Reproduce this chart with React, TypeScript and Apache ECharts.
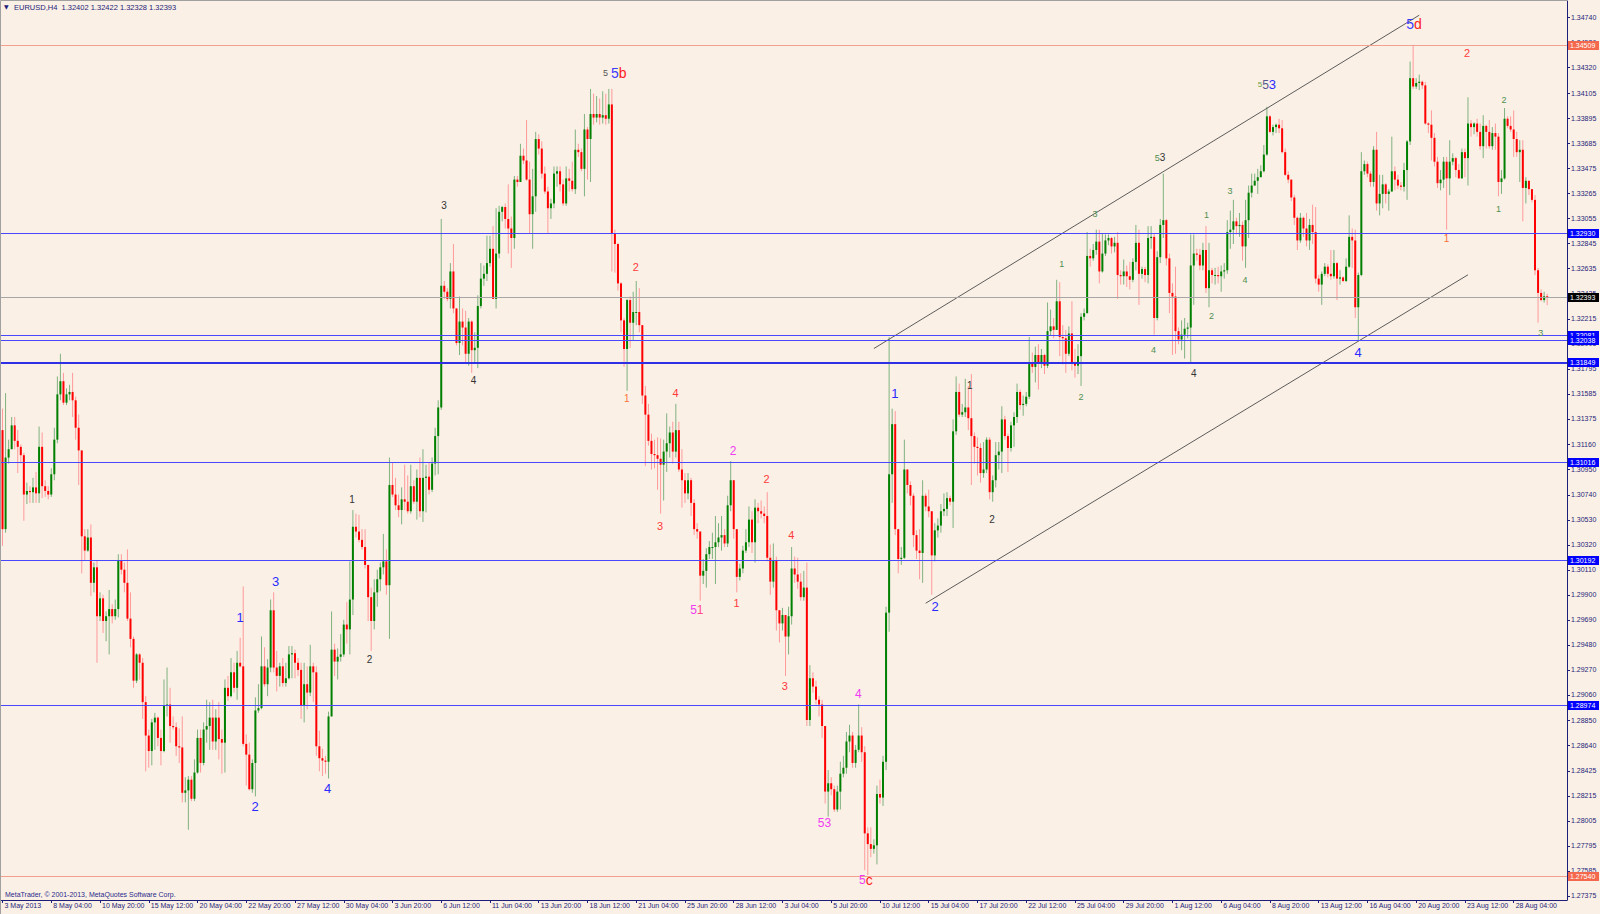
import React, { useEffect, useRef } from 'react';
import * as echarts from 'echarts';

// ---------------- DATA ----------------
const FIRST_OPEN = 1.3128;

const closes = [
  1.3045,1.3105,1.3112,1.3132,1.3119,1.3114,1.3107,1.3074,1.3077,1.3076,
  1.3080,1.3075,1.3114,1.3081,1.3077,1.3074,1.3091,1.3120,1.3158,1.3169,
  1.3151,1.3158,1.3160,1.3153,1.3130,1.3111,1.3039,1.3027,1.3038,1.3000,
  1.3013,1.2972,1.2987,1.2968,1.2972,1.2978,1.2972,1.2978,1.3019,1.3011,
  1.3000,1.2970,1.2953,1.2918,1.2940,1.2933,1.2900,1.2872,1.2859,1.2883,
  1.2887,1.2870,1.2859,1.2897,1.2898,1.2880,1.2879,1.2863,1.2862,1.2824,
  1.2826,1.2835,1.2819,1.2841,1.2870,1.2849,1.2877,1.2880,1.2887,1.2867,
  1.2887,1.2869,1.2866,1.2912,1.2905,1.2925,1.2912,1.2933,1.2930,1.2865,
  1.2856,1.2827,1.2849,1.2893,1.2895,1.2930,1.2915,1.2929,1.2977,1.2929,
  1.2922,1.2930,1.2916,1.2920,1.2940,1.2941,1.2933,1.2927,1.2897,1.2915,
  1.2908,1.2930,1.2925,
  1.2863,1.2853,1.2851,1.2850,1.2888,1.2944,1.2934,1.2938,1.2940,1.2965,
  1.2961,1.2986,1.3047,1.3043,1.3036,1.3030,1.3015,1.2988,1.2968,1.2992,
  1.3003,1.3013,1.3018,1.2998,1.3082,1.3074,1.3065,1.3061,1.3070,1.3068,
  1.3060,1.3081,1.3068,1.3088,1.3060,1.3088,1.3089,1.3078,1.3100,1.3123,
  1.3147,1.3249,1.3244,1.3238,1.3261,1.3230,1.3201,1.3219,1.3214,1.3192,
  1.3219,1.3195,1.3197,1.3232,1.3255,1.3259,1.3268,1.3280,1.3238,1.3276,
  1.3311,1.3315,1.3305,1.3297,1.3289,1.3338,1.3336,1.3358,1.3354,1.3338,
  1.3309,1.3324,1.3372,1.3364,1.3343,1.3328,1.3314,1.3318,1.3343,1.3345,
  1.3334,1.3318,1.3339,1.3337,1.3330,1.3363,1.3361,1.3347,1.3380,1.3372,
  1.3393,1.3390,1.3393,1.3390,1.3392,1.3389,1.3401,1.3293,
  1.3284,1.3251,1.3220,1.3196,1.3237,1.3218,1.3227,1.3227,1.3216,1.3157,
  1.3141,1.3119,1.3108,1.3107,1.3104,1.3099,1.3110,1.3117,1.3126,1.3110,
  1.3128,1.3095,1.3086,1.3075,1.3086,1.3067,1.3045,1.3043,1.3006,1.3010,
  1.3024,1.3030,1.3030,1.3034,1.3038,1.3040,1.3033,1.3065,1.3086,1.3045,
  1.3005,1.3012,1.3027,1.3034,1.3053,1.3034,1.3063,1.3060,1.3058,1.3056,
  1.3021,1.3001,1.3019,1.2977,1.2966,1.2973,1.2955,1.2972,1.3012,1.3007,
  1.3001,1.2988,1.2996,1.2885,1.2920,1.2913,1.2902,1.2898,1.2880,1.2825,
  1.2832,1.2827,1.2810,1.2825,1.2840,1.2845,1.2867,1.2872,1.2849,1.2860,
  1.2872,1.2858,1.2790,1.2781,1.2777,1.2780,1.2823,1.2820,1.2850,1.2975,
  1.3091,1.3133,1.3045,1.3020,1.3021,1.3095,1.3082,
  1.3073,1.3040,1.3027,1.3025,1.3073,1.3064,1.3060,1.3023,1.3044,1.3048,
  1.3060,1.3062,1.3071,1.3068,1.3127,1.3160,1.3141,1.3143,1.3147,1.3138,
  1.3123,1.3114,1.3113,1.3092,1.3095,1.3120,1.3076,1.3086,1.3107,1.3110,
  1.3137,1.3123,1.3113,1.3132,1.3139,1.3160,1.3149,1.3150,1.3156,1.3185,
  1.3181,1.3191,1.3184,1.3191,1.3182,1.3211,1.3215,1.3212,1.3236,1.3206,
  1.3205,1.3192,1.3209,1.3184,1.3182,1.3190,1.3223,1.3226,1.3274,1.3272,
  1.3279,1.3286,1.3261,1.3276,1.3287,1.3289,1.3282,1.3285,1.3258,1.3257,
  1.3261,1.3257,1.3254,1.3269,1.3285,1.3259,1.3263,1.3258,1.3289,1.3290,
  1.3222,1.3273,1.3300,1.3304,1.3272,1.3243,1.3240,1.3211,1.3204,1.3208,
  1.3213,1.3214,1.3266,1.3276,1.3275,1.3266,1.3279,1.3247,1.3262,
  1.3258,1.3258,1.3257,1.3261,1.3262,1.3294,1.3296,1.3303,1.3299,1.3300,
  1.3282,1.3304,1.3327,1.3333,1.3337,1.3340,1.3345,1.3359,1.3391,1.3378,
  1.3382,1.3384,1.3381,1.3361,1.3342,1.3338,1.3323,1.3306,1.3287,1.3306,
  1.3297,1.3287,1.3300,1.3294,1.3255,1.3250,1.3259,1.3265,1.3259,1.3257,
  1.3268,1.3255,1.3256,1.3253,1.3265,1.3290,1.3287,1.3231,1.3258,1.3345,
  1.3351,1.3343,1.3336,1.3363,1.3318,1.3326,1.3334,1.3326,1.3328,1.3345,
  1.3338,1.3333,1.3332,1.3346,1.3370,1.3423,1.3416,1.3419,1.3420,1.3417,
  1.3385,1.3384,1.3373,1.3353,1.3335,1.3338,1.3353,1.3339,1.3353,1.3356,
  1.3346,1.3339,1.3361,1.3356,1.3385,1.3382,1.3385,1.3378,1.3366,1.3383,
  1.3378,1.3366,1.3377,1.3374,1.3336,1.3339,1.3389,1.3383,1.3380,1.3372,
  1.3361,1.3363,1.3331,1.3337,1.3330,1.3321,1.3262,1.3243,1.3237,1.32402,1.32393,
];

const highs = [
  1.3146,1.3159,1.3120,1.3139,1.3139,1.3128,1.3116,1.3109,1.3084,1.3081,
  1.3088,1.3093,1.3131,1.3126,1.3086,1.3081,1.3096,1.3130,1.3173,1.3192,
  1.3176,1.3163,1.3166,1.3176,1.3156,1.3141,1.3111,1.3045,1.3045,1.3049,
  1.3017,1.3019,1.2992,1.2990,1.2976,1.2994,1.2982,1.2986,1.3024,1.3024,
  1.3017,1.3028,1.2992,1.2955,1.2941,1.2941,1.2937,1.2905,1.2877,1.2886,
  1.2891,1.2888,1.2877,1.2919,1.2929,1.2912,1.2888,1.2883,1.2878,1.2888,
  1.2837,1.2838,1.2838,1.2852,1.2877,1.2877,1.2883,1.2902,1.2900,1.2902,
  1.2894,1.2900,1.2877,1.2919,1.2922,1.2937,1.2933,1.2943,1.2954,1.2997,
  1.2873,1.2866,1.2852,1.2904,1.2915,1.2955,1.2946,1.2936,1.2986,1.2992,
  1.2943,1.2933,1.2937,1.2933,1.2947,1.2947,1.2944,1.2937,1.2933,1.2933,
  1.2930,1.2948,1.2933,
  1.2930,1.2876,1.2861,1.2855,1.2892,1.2976,1.2949,1.2945,1.2957,1.2969,
  1.2984,1.3018,1.3061,1.3058,1.3057,1.3045,1.3045,1.3015,1.2996,1.3003,
  1.3011,1.3017,1.3041,1.3028,1.3105,1.3101,1.3088,1.3074,1.3080,1.3099,
  1.3090,1.3099,1.3086,1.3095,1.3105,1.3112,1.3099,1.3101,1.3105,1.3130,
  1.3153,1.3305,1.3253,1.3247,1.3268,1.3284,1.3230,1.3240,1.3230,1.3228,
  1.3222,1.3220,1.3210,1.3241,1.3268,1.3266,1.3291,1.3291,1.3299,1.3314,
  1.3316,1.3316,1.3318,1.3334,1.3307,1.3341,1.3341,1.3368,1.3364,1.3388,
  1.3353,1.3347,1.3378,1.3376,1.3370,1.3349,1.3332,1.3322,1.3349,1.3349,
  1.3349,1.3338,1.3349,1.3347,1.3353,1.3380,1.3368,1.3364,1.3393,1.3382,
  1.3414,1.3410,1.3408,1.3406,1.3412,1.3410,1.3414,1.3414,
  1.3296,1.3285,1.3252,1.3222,1.3238,1.3240,1.3244,1.3253,1.3247,1.3216,
  1.3165,1.3150,1.3125,1.3120,1.3122,1.3121,1.3120,1.3142,1.3131,1.3135,
  1.3150,1.3135,1.3112,1.3092,1.3092,1.3088,1.3070,1.3050,1.3043,1.3020,
  1.3029,1.3035,1.3042,1.3056,1.3050,1.3056,1.3045,1.3073,1.3102,1.3086,
  1.3045,1.3016,1.3031,1.3045,1.3064,1.3060,1.3070,1.3067,1.3069,1.3064,
  1.3076,1.3032,1.3033,1.3022,1.2977,1.2979,1.2973,1.2980,1.3030,1.3022,
  1.3021,1.3008,1.3010,1.3017,1.2931,1.2925,1.2918,1.2905,1.2902,1.2880,
  1.2843,1.2837,1.2830,1.2830,1.2850,1.2855,1.2875,1.2881,1.2875,1.2864,
  1.2898,1.2879,1.2863,1.2795,1.2795,1.2785,1.2830,1.2835,1.2855,1.2980,
  1.3206,1.3146,1.3144,1.3045,1.3030,1.3120,1.3095,
  1.3085,1.3075,1.3044,1.3045,1.3086,1.3075,1.3078,1.3060,1.3050,1.3054,
  1.3066,1.3075,1.3076,1.3073,1.3137,1.3173,1.3167,1.3150,1.3171,1.3165,
  1.3175,1.3126,1.3122,1.3117,1.3118,1.3122,1.3122,1.3090,1.3118,1.3118,
  1.3148,1.3140,1.3125,1.3135,1.3143,1.3167,1.3162,1.3157,1.3160,1.3206,
  1.3193,1.3198,1.3200,1.3196,1.3192,1.3235,1.3229,1.3222,1.3254,1.3252,
  1.3216,1.3212,1.3215,1.3236,1.3196,1.3200,1.3226,1.3230,1.3294,1.3280,
  1.3284,1.3296,1.3296,1.3293,1.3292,1.3292,1.3290,1.3290,1.3294,1.3262,
  1.3271,1.3266,1.3269,1.3272,1.3300,1.3296,1.3265,1.3265,1.3299,1.3299,
  1.3293,1.3278,1.3305,1.3343,1.3305,1.3276,1.3251,1.3265,1.3214,1.3220,
  1.3222,1.3218,1.3292,1.3292,1.3280,1.3280,1.3285,1.3299,1.3285,
  1.3264,1.3264,1.3265,1.3266,1.3268,1.3304,1.3312,1.3321,1.3306,1.3310,
  1.3303,1.3321,1.3333,1.3343,1.3343,1.3347,1.3350,1.3367,1.3399,1.3392,
  1.3384,1.3385,1.3389,1.3388,1.3364,1.3345,1.3338,1.3325,1.3307,1.3310,
  1.3307,1.3310,1.3305,1.3317,1.3315,1.3258,1.3261,1.3268,1.3267,1.3279,
  1.3279,1.3269,1.3262,1.3257,1.3272,1.3308,1.3297,1.3296,1.3260,1.3361,
  1.3354,1.3353,1.3345,1.3366,1.3378,1.3342,1.3342,1.3335,1.3330,1.3374,
  1.3349,1.3342,1.3336,1.3352,1.3371,1.3437,1.3451,1.3423,1.3426,1.3421,
  1.3420,1.3386,1.3396,1.3377,1.3357,1.3346,1.3357,1.3357,1.3371,1.3360,
  1.3357,1.3351,1.3364,1.3364,1.3407,1.3388,1.3386,1.3389,1.3385,1.3392,
  1.3384,1.3388,1.3382,1.3385,1.3377,1.3346,1.3398,1.3391,1.3391,1.3396,
  1.3378,1.3371,1.3371,1.3340,1.3335,1.3329,1.3325,1.3264,1.3246,1.3244,1.32422,
];

const lows = [
  1.3031,1.3042,1.3100,1.3112,1.3112,1.3092,1.3100,1.3052,1.3066,1.3067,
  1.3067,1.3067,1.3067,1.3071,1.3072,1.3070,1.3072,1.3086,1.3117,1.3153,
  1.3149,1.3149,1.3153,1.3139,1.3120,1.3082,1.3008,1.3019,1.3026,1.2989,
  1.2992,1.2933,1.2968,1.2958,1.2951,1.2940,1.2966,1.2969,1.2971,1.3007,
  1.2992,1.2968,1.2946,1.2912,1.2916,1.2919,1.2886,1.2842,1.2845,1.2847,
  1.2860,1.2863,1.2847,1.2858,1.2888,1.2866,1.2877,1.2855,1.2849,1.2816,
  1.2816,1.2793,1.2817,1.2817,1.2840,1.2841,1.2847,1.2866,1.2860,1.2860,
  1.2860,1.2852,1.2840,1.2841,1.2901,1.2904,1.2908,1.2902,1.2929,1.2863,
  1.2830,1.2826,1.2824,1.2821,1.2891,1.2894,1.2913,1.2905,1.2925,1.2925,
  1.2909,1.2913,1.2913,1.2913,1.2919,1.2920,1.2920,1.2922,1.2886,1.2883,
  1.2894,1.2905,1.2900,
  1.2855,1.2842,1.2838,1.2840,1.2836,1.2888,1.2922,1.2919,1.2934,1.2938,
  1.2949,1.2940,1.2973,1.3038,1.3034,1.3028,1.3012,1.2968,1.2943,1.2961,
  1.2980,1.2993,1.3007,1.2990,1.2953,1.3072,1.3061,1.3055,1.3049,1.3061,
  1.3058,1.3058,1.3066,1.3053,1.3055,1.3051,1.3059,1.3074,1.3076,1.3090,
  1.3091,1.3145,1.3238,1.3236,1.3230,1.3226,1.3199,1.3191,1.3199,1.3184,
  1.3182,1.3176,1.3184,1.3180,1.3230,1.3249,1.3253,1.3265,1.3238,1.3230,
  1.3272,1.3303,1.3297,1.3276,1.3264,1.3280,1.3332,1.3337,1.3351,1.3337,
  1.3293,1.3280,1.3311,1.3359,1.3339,1.3326,1.3293,1.3305,1.3314,1.3332,
  1.3328,1.3316,1.3316,1.3328,1.3328,1.3326,1.3357,1.3345,1.3324,1.3338,
  1.3336,1.3384,1.3386,1.3384,1.3385,1.3384,1.3385,1.3261,
  1.3260,1.3245,1.3210,1.3181,1.3161,1.3197,1.3203,1.3216,1.3210,1.3150,
  1.3098,1.3115,1.3095,1.3096,1.3078,1.3058,1.3069,1.3093,1.3105,1.3100,
  1.3105,1.3093,1.3063,1.3067,1.3070,1.3056,1.3040,1.3037,1.2985,1.2999,
  1.2996,1.3020,1.3020,1.2999,1.3030,1.3027,1.3030,1.3030,1.3060,1.3037,
  1.2992,1.3002,1.3008,1.3025,1.3030,1.3025,1.3017,1.3050,1.3054,1.3050,
  1.3018,1.2990,1.2996,1.2960,1.2950,1.2960,1.2922,1.2940,1.2965,1.3000,
  1.2995,1.2985,1.2985,1.2880,1.2880,1.2908,1.2898,1.2888,1.2870,1.2815,
  1.2804,1.2822,1.2808,1.2808,1.2810,1.2837,1.2840,1.2858,1.2845,1.2845,
  1.2858,1.2850,1.2759,1.2755,1.2770,1.2773,1.2764,1.2815,1.2813,1.2843,
  1.2959,1.3067,1.3040,1.3008,1.3015,1.3020,1.3075,
  1.3065,1.3030,1.3020,1.3003,1.3000,1.3060,1.3055,1.2990,1.3018,1.3038,
  1.3042,1.3056,1.3056,1.3065,1.3046,1.3124,1.3139,1.3139,1.3139,1.3128,
  1.3082,1.3100,1.3090,1.3084,1.3088,1.3092,1.3070,1.3068,1.3080,1.3095,
  1.3092,1.3120,1.3093,1.3110,1.3114,1.3134,1.3145,1.3140,1.3148,1.3154,
  1.3176,1.3168,1.3162,1.3180,1.3175,1.3180,1.3207,1.3205,1.3222,1.3190,
  1.3183,1.3176,1.3190,1.3178,1.3172,1.3175,1.3165,1.3220,1.3226,1.3265,
  1.3270,1.3275,1.3251,1.3260,1.3274,1.3283,1.3276,1.3277,1.3238,1.3250,
  1.3250,1.3248,1.3246,1.3252,1.3262,1.3233,1.3255,1.3252,1.3251,1.3280,
  1.3208,1.3220,1.3268,1.3289,1.3266,1.3226,1.3191,1.3192,1.3200,1.3195,
  1.3188,1.3205,1.3185,1.3233,1.3270,1.3262,1.3262,1.3243,1.3231,
  1.3251,1.3250,1.3251,1.3244,1.3255,1.3259,1.3280,1.3284,1.3292,1.3290,
  1.3270,1.3264,1.3289,1.3323,1.3333,1.3326,1.3340,1.3344,1.3358,1.3377,
  1.3375,1.3377,1.3377,1.3360,1.3341,1.3335,1.3320,1.3300,1.3279,1.3285,
  1.3290,1.3282,1.3279,1.3284,1.3251,1.3244,1.3233,1.3257,1.3256,1.3254,
  1.3255,1.3237,1.3250,1.3252,1.3252,1.3264,1.3264,1.3222,1.3203,1.3257,
  1.3342,1.3340,1.3332,1.3332,1.3312,1.3308,1.3314,1.3318,1.3312,1.3328,
  1.3329,1.3330,1.3329,1.3328,1.3321,1.3367,1.3414,1.3414,1.3413,1.3414,
  1.3384,1.3377,1.3354,1.3349,1.3331,1.3329,1.3331,1.3296,1.3325,1.3350,
  1.3340,1.3339,1.3339,1.3340,1.3333,1.3374,1.3376,1.3374,1.3363,1.3356,
  1.3364,1.3364,1.3363,1.3363,1.3324,1.3326,1.3338,1.3381,1.3378,1.3357,
  1.3357,1.3336,1.3303,1.3318,1.3325,1.3319,1.3258,1.3218,1.3236,1.3235,1.32328,
];

const dateTicks = [
  '3 May 2013', '8 May 04:00', '10 May 20:00', '15 May 12:00', '20 May 04:00', '22 May 20:00',
  '27 May 12:00', '30 May 04:00', '3 Jun 20:00', '6 Jun 12:00', '11 Jun 04:00', '13 Jun 20:00',
  '18 Jun 12:00', '21 Jun 04:00', '25 Jun 20:00', '28 Jun 12:00', '3 Jul 04:00', '5 Jul 20:00',
  '10 Jul 12:00', '15 Jul 04:00', '17 Jul 20:00', '22 Jul 12:00', '25 Jul 04:00', '29 Jul 20:00',
  '1 Aug 12:00', '6 Aug 04:00', '8 Aug 20:00', '13 Aug 12:00', '16 Aug 04:00', '20 Aug 20:00',
  '23 Aug 12:00', '28 Aug 04:00',
];
const BARS_PER_DATE_TICK = 16;

const priceTicks = [
  1.34740, 1.34530, 1.34320, 1.34105, 1.33895, 1.33685, 1.33475, 1.33265, 1.33055, 1.32845,
  1.32635, 1.32425, 1.32215, 1.32005, 1.31795, 1.31585, 1.31375, 1.31160, 1.30950, 1.30740,
  1.30530, 1.30320, 1.30110, 1.29900, 1.29690, 1.29480, 1.29270, 1.29060, 1.28850, 1.28640,
  1.28425, 1.28215, 1.28005, 1.27795, 1.27585, 1.27375,
];

const blueLevels = [1.32930, 1.32081, 1.32038, 1.31849, 1.31016, 1.30192, 1.28974];
const redLevels = [1.34509, 1.27540];
const bidLevel = 1.32393;

const upperChannel = [[286, 1.31964], [465, 1.34758]];
const lowerChannel = [[303, 1.29829], [481, 1.32582]];

// wave labels: bar index, price, text parts with their wave-degree key
const waveLabels: { bar: number; price: number; parts: [string, string][] }[] = [
  { bar: 78, price: 1.29713, parts: [['1', 'B']] },
  { bar: 82.9, price: 1.28129, parts: [['2', 'B']] },
  { bar: 89.6, price: 1.30007, parts: [['3', 'B']] },
  { bar: 106.7, price: 1.28272, parts: [['4', 'B']] },
  { bar: 114.7, price: 1.30702, parts: [['1', 'K']] },
  { bar: 120.5, price: 1.29361, parts: [['2', 'K']] },
  { bar: 144.9, price: 1.33167, parts: [['3', 'K']] },
  { bar: 154.6, price: 1.31700, parts: [['4', 'K']] },
  { bar: 197.9, price: 1.34273, parts: [['5', 'S']] },
  { bar: 202.3, price: 1.34273, parts: [['5', 'BL'], ['b', 'RL']] },
  { bar: 207.9, price: 1.32647, parts: [['2', 'R']] },
  { bar: 204.9, price: 1.31541, parts: [['1', 'O']] },
  { bar: 220.9, price: 1.31591, parts: [['4', 'R']] },
  { bar: 215.8, price: 1.30480, parts: [['3', 'R']] },
  { bar: 239.8, price: 1.31109, parts: [['2', 'M']] },
  { bar: 227.9, price: 1.29772, parts: [['5', 'M'], ['1', 'P']] },
  { bar: 240.9, price: 1.29831, parts: [['1', 'R']] },
  { bar: 250.8, price: 1.30870, parts: [['2', 'R']] },
  { bar: 258.9, price: 1.30401, parts: [['4', 'R']] },
  { bar: 256.8, price: 1.29139, parts: [['3', 'R']] },
  { bar: 269.8, price: 1.27987, parts: [['5', 'M'], ['3', 'M']] },
  { bar: 280.9, price: 1.29068, parts: [['4', 'M']] },
  { bar: 283.4, price: 1.27509, parts: [['5', 'M'], ['c', 'RL']] },
  { bar: 292.9, price: 1.31591, parts: [['1', 'B']] },
  { bar: 306.1, price: 1.29805, parts: [['2', 'B']] },
  { bar: 317.5, price: 1.31650, parts: [['1', 'K']] },
  { bar: 324.8, price: 1.30535, parts: [['2', 'K']] },
  { bar: 347.7, price: 1.32672, parts: [['1', 'G']] },
  { bar: 354.0, price: 1.31557, parts: [['2', 'G']] },
  { bar: 358.6, price: 1.33091, parts: [['3', 'G']] },
  { bar: 379.9, price: 1.33561, parts: [['5', 'G'], ['3', 'K']] },
  { bar: 377.8, price: 1.31951, parts: [['4', 'G']] },
  { bar: 395.2, price: 1.33083, parts: [['1', 'G']] },
  { bar: 391.0, price: 1.31754, parts: [['4', 'K']] },
  { bar: 396.8, price: 1.32236, parts: [['2', 'G']] },
  { bar: 402.9, price: 1.33288, parts: [['3', 'G']] },
  { bar: 407.8, price: 1.32538, parts: [['4', 'G']] },
  { bar: 415.0, price: 1.34173, parts: [['5', 'GS'], ['5', 'N'], ['3', 'B']] },
  { bar: 444.9, price: 1.31934, parts: [['4', 'B']] },
  { bar: 463.3, price: 1.34684, parts: [['5', 'BL'], ['d', 'RL']] },
  { bar: 480.7, price: 1.34441, parts: [['2', 'R']] },
  { bar: 474.0, price: 1.32890, parts: [['1', 'O']] },
  { bar: 492.8, price: 1.34047, parts: [['2', 'G']] },
  { bar: 491.0, price: 1.33133, parts: [['1', 'G']] },
  { bar: 504.9, price: 1.32094, parts: [['3', 'G']] },
];

// ---------------- STYLE ----------------
const BAR_SLOTS = 514;
const Y_MIN = 1.273414;
const Y_MAX = 1.34877;
const NAVY = '#1e1e78';
const FONT = '"Liberation Sans", Arial, sans-serif';
const BG = '#faf0e6';

const LABEL_STYLES: Record<string, { color: string; size: number }> = {
  B: { color: '#2b2bff', size: 13 },
  BL: { color: '#3a3aff', size: 14 },
  K: { color: '#333333', size: 10 },
  R: { color: '#ff3a3a', size: 11 },
  RL: { color: '#ff2020', size: 14 },
  O: { color: '#ff7038', size: 10 },
  M: { color: '#f03cf0', size: 12 },
  P: { color: '#ff4d8a', size: 12 },
  G: { color: '#4f8f4f', size: 9 },
  GS: { color: '#6f9f3f', size: 8 },
  S: { color: '#555555', size: 9 },
  N: { color: '#58588c', size: 12 },
};

// level kinds: 0 = blue object line, 1 = red object line, 2 = bid line
const LEVEL_STYLES = [
  { line: '#4848ff', box: '#0000ff' },
  { line: '#f3a08e', box: '#f4694d' },
  { line: '#a6a6a6', box: '#000000' },
];

export default function App() {
  const ref = useRef<HTMLDivElement>(null);

  useEffect(() => {
    if (!ref.current) return;
    const chart = echarts.init(ref.current, null, { renderer: 'svg' });

    const candleData = closes.map((c, i) => [i, i === 0 ? FIRST_OPEN : closes[i - 1], c, lows[i], highs[i]]);
    const categories = Array.from({ length: BAR_SLOTS }, (_, i) => String(i));

    const rich: Record<string, any> = {};
    Object.keys(LABEL_STYLES).forEach((k) => {
      rich[k] = {
        fill: LABEL_STYLES[k].color,
        color: LABEL_STYLES[k].color,
        fontSize: LABEL_STYLES[k].size,
        fontFamily: FONT,
      };
    });

    const levelData = [
      ...redLevels.map((v) => [0, v, 1]),
      ...blueLevels.map((v) => [0, v, 0]),
      [0, bidLevel, 2],
    ];

    const option: any = {
      animation: false,
      backgroundColor: BG,
      grid: { left: 1, right: 33, top: 1, bottom: 14, containLabel: false, outerBoundsMode: 'none' },
      xAxis: {
        type: 'category',
        data: categories,
        boundaryGap: true,
        axisLine: { show: true, lineStyle: { color: NAVY, width: 1 } },
        axisTick: {
          show: true,
          alignWithLabel: true,
          length: 3,
          interval: (idx: number) => idx % BARS_PER_DATE_TICK === 0 && idx / BARS_PER_DATE_TICK < dateTicks.length,
          lineStyle: { color: NAVY },
        },
        axisLabel: {
          show: true,
          interval: (idx: number) => idx % BARS_PER_DATE_TICK === 0 && idx / BARS_PER_DATE_TICK < dateTicks.length,
          formatter: (_v: string, idx: number) => dateTicks[idx / BARS_PER_DATE_TICK] || '',
          align: 'left',
          padding: [0, 0, 0, 2],
          margin: 2,
          color: NAVY,
          fontSize: 7,
          fontFamily: FONT,
        },
        splitLine: { show: false },
      },
      yAxis: {
        type: 'value',
        position: 'right',
        min: Y_MIN,
        max: Y_MAX,
        scale: true,
        axisLine: { show: true, lineStyle: { color: NAVY, width: 1 } },
        axisTick: { show: false },
        axisLabel: { show: false },
        splitLine: { show: false },
      },
      graphic: [
        {
          type: 'polyline',
          shape: { points: [[0.5, 914], [0.5, 0.5], [1567, 0.5]] },
          style: { stroke: '#a0a0a0', fill: 'none', lineWidth: 1 },
          z: 100,
        },
        {
          type: 'text',
          left: 4,
          top: 3,
          style: { text: '▼', fill: NAVY, fontSize: 6, fontFamily: 'DejaVu Sans' },
          z: 100,
        },
        {
          type: 'text',
          left: 14,
          top: 3,
          style: {
            text: 'EURUSD,H4  1.32402 1.32422 1.32328 1.32393',
            fill: NAVY,
            fontSize: 7.5,
            fontFamily: FONT,
          },
          z: 100,
        },
        {
          type: 'text',
          left: 5,
          top: 891,
          style: {
            text: 'MetaTrader, © 2001-2013, MetaQuotes Software Corp.',
            fill: '#2a2a8a',
            fontSize: 7,
            fontFamily: FONT,
          },
          z: 100,
        },
      ],
      series: [
        {
          type: 'custom',
          name: 'EURUSD',
          data: candleData,
          encode: { x: 0, y: [1, 2, 3, 4] },
          z: 2,
          silent: true,
          renderItem: (_params: any, api: any) => {
            const i = api.value(0);
            const o = api.value(1);
            const c = api.value(2);
            const l = api.value(3);
            const h = api.value(4);
            const pO = api.coord([i, o]);
            const pC = api.coord([i, c]);
            const pH = api.coord([i, Math.max(h, o, c)]);
            const pL = api.coord([i, Math.min(l, o, c)]);
            const up = c >= o;
            const x = pO[0];
            const yTop = Math.min(pO[1], pC[1]);
            const hh = Math.max(1, Math.abs(pO[1] - pC[1]));
            return {
              type: 'group',
              children: [
                {
                  type: 'line',
                  shape: { x1: x, y1: pH[1], x2: x, y2: pL[1] },
                  style: { stroke: up ? '#7fb27f' : '#ff9a9a', lineWidth: 1 },
                },
                {
                  type: 'rect',
                  shape: { x: x - 1, y: yTop, width: 2, height: hh },
                  style: { fill: up ? '#008000' : '#ff0000' },
                },
              ],
            };
          },
        },
        {
          type: 'line',
          data: upperChannel,
          symbol: 'none',
          silent: true,
          z: 4,
          lineStyle: { color: '#5c5c5c', width: 1 },
        },
        {
          type: 'line',
          data: lowerChannel,
          symbol: 'none',
          silent: true,
          z: 4,
          lineStyle: { color: '#5c5c5c', width: 1 },
        },
        {
          type: 'custom',
          data: priceTicks.map((v) => [0, v]),
          encode: { x: 0, y: 1 },
          silent: true,
          z: 1,
          clip: false,
          renderItem: (params: any, api: any) => {
            const v = api.value(1);
            const p = api.coord([0, v]);
            const cs = params.coordSys;
            const xr = cs.x + cs.width;
            return {
              type: 'group',
              children: [
                {
                  type: 'rect',
                  shape: { x: xr, y: Math.round(p[1]), width: 3, height: 1 },
                  style: { fill: NAVY },
                },
                {
                  type: 'text',
                  x: xr + 4,
                  y: p[1],
                  style: {
                    text: v.toFixed(5),
                    fill: NAVY,
                    fontSize: 7,
                    fontFamily: FONT,
                    align: 'left',
                    verticalAlign: 'middle',
                  },
                },
              ],
            };
          },
        },
        {
          type: 'custom',
          data: levelData,
          encode: { x: 0, y: 1 },
          silent: true,
          z: 6,
          clip: false,
          renderItem: (params: any, api: any) => {
            const v = api.value(1);
            const kind = api.value(2);
            const st = LEVEL_STYLES[kind];
            const p = api.coord([0, v]);
            const cs = params.coordSys;
            const xl = cs.x;
            const xr = cs.x + cs.width;
            const thick = Math.abs(v - 1.31849) < 1e-6;
            const yr = Math.round(p[1]);
            return {
              type: 'group',
              children: [
                {
                  type: 'rect',
                  shape: { x: xl, y: yr, width: xr - xl, height: thick ? 2 : 1 },
                  style: { fill: thick ? '#2f2fe6' : st.line },
                },
                {
                  type: 'rect',
                  shape: { x: xr + 1, y: yr - 4, width: 31, height: 9 },
                  style: { fill: st.box },
                },
                {
                  type: 'text',
                  x: xr + 3,
                  y: yr + 0.5,
                  style: {
                    text: v.toFixed(5),
                    fill: '#ffffff',
                    fontSize: 7,
                    fontFamily: FONT,
                    align: 'left',
                    verticalAlign: 'middle',
                  },
                },
              ],
            };
          },
        },
        {
          type: 'custom',
          data: waveLabels.map((w, k) => [Math.round(w.bar), w.price, k]),
          encode: { x: 0, y: 1 },
          silent: true,
          z: 8,
          clip: false,
          renderItem: (_params: any, api: any) => {
            const w = waveLabels[api.value(2)];
            const b0 = Math.floor(w.bar);
            const p0 = api.coord([b0, w.price]);
            const p1 = api.coord([b0 + 1, w.price]);
            const x = p0[0] + (w.bar - b0) * (p1[0] - p0[0]);
            const text = w.parts.map(([t, k]) => `{${k}|${t}}`).join('');
            return {
              type: 'text',
              x,
              y: p0[1],
              style: { text, rich, align: 'center', verticalAlign: 'middle', fontFamily: FONT },
            };
          },
        },
      ],
    };

    chart.setOption(option);
    return () => chart.dispose();
  }, []);

  return (
    <div
      ref={ref}
      style={{ position: 'absolute', left: 0, top: 0, width: 1600, height: 914, background: BG }}
    />
  );
}
